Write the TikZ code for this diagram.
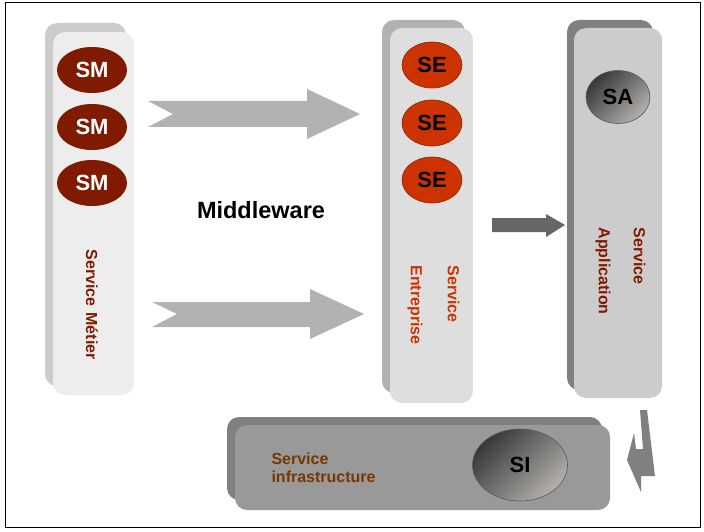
\documentclass[tikz,border=0pt]{standalone}
\usepackage{fontspec}
\setmainfont{Liberation Sans}
\usetikzlibrary{shapes.geometric}
\definecolor{smred}{RGB}{128,26,0}
\definecolor{sered}{RGB}{204,51,0}
\definecolor{sibrown}{RGB}{120,55,0}
\tikzset{
	bulle/.style={ellipse,inner sep=0pt,font=\bfseries\fontsize{22}{22}\selectfont},
	sm/.style={bulle,fill=smred,text=white,minimum width=70pt,minimum height=46pt},
	se/.style={bulle,fill=sered,draw=sered!70!black,line width=.6pt,minimum width=60pt,minimum height=46pt},
	gris/.style={bulle,draw=gray!70!black,line width=.6pt,top color=black!78,bottom color=black!30!white!95!brown,shading angle=45},
	etiquette/.style={font=\bfseries\fontsize{16}{18}\selectfont,align=left}
}
\begin{document}
\begin{tikzpicture}[x=1pt,y=-1pt]
						\useasboundingbox (0,0) rectangle (704,532);
						\draw[line width=1pt](5,3) rectangle (700,527);
						% service metier
						\fill[gray!40,rounded corners=12pt](45,23) rectangle (126,386);
						\fill[gray!14,rounded corners=12pt](53,32) rectangle (134,395);
						\node (sm1) at (92,70) [sm]{SM};
						\node (sm2) at (92,127) [sm]{SM};
						\node (sm3) at (92,183) [sm]{SM};
						\node (metier) at (92,246) [etiquette,rotate=-90,anchor=west,text=smred]{Service\hspace{6pt}Métier};
						% fleches middleware
						\fill[gray!60](148,101)--(307,101)--(307,89)--(360,114)--(307,139)--(307,127)--(148,127)--(173,114)--cycle;
						\fill[gray!60](152,302)--(310,302)--(310,289)--(364,314)--(310,339)--(310,327)--(152,327)--(177,314)--cycle;
						\node (mw) at (261,210) {\bfseries\fontsize{23.5}{24}\selectfont Middleware};
						% service entreprise
						\fill[gray!60,rounded corners=12pt](382,20) rectangle (465,393);
						\fill[gray!26,rounded corners=12pt](390,28) rectangle (473,403);
						\node (se1) at (432,65) [se]{SE};
						\node (se2) at (432,123) [se]{SE};
						\node (se3) at (432,180) [se]{SE};
						\node (entreprise) at (433.5,262) [etiquette,rotate=-90,anchor=west,text=sered]{Service\\[19pt]Entreprise};
						\fill[black!60](492,218)--(546,218)--(546,214)--(565,225)--(546,237)--(546,232)--(492,232)--cycle;
						% service application
						\fill[gray,rounded corners=12pt](567,20) rectangle (653,390);
						\fill[gray!40,rounded corners=12pt](574,28) rectangle (662,398);
						\node (sa) at (618,97) [gris,minimum width=64pt,minimum height=53pt]{SA};
						\node (application) at (620.5,224) [etiquette,rotate=-90,anchor=west,text=smred]{Service\\[17pt]Application};
						% service infrastructure
						\fill[gray](640,410)--(647,410)--(655,476)--(641,476)--(641,492)--(627,460)--(634,433)--(636,449)--(643,449)--cycle;
						\fill[gray,rounded corners=12pt](227,417) rectangle (602,500);
						\fill[gray!80,rounded corners=12pt](235,425) rectangle (610,510);
						\node (infra) at (268,468) [etiquette,anchor=west,text=sibrown]{Service\\infrastructure};
						\node (si) at (520,465) [gris,minimum width=95pt,minimum height=72pt]{SI};
					\end{tikzpicture}
\end{document}
